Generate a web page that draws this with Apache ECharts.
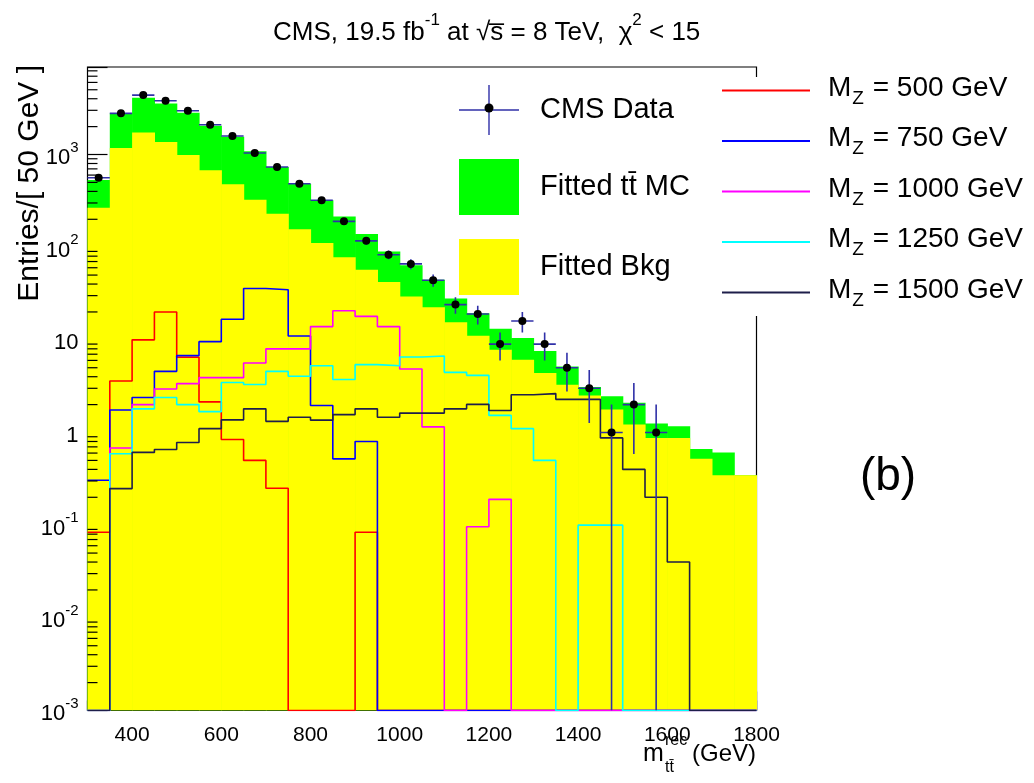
<!DOCTYPE html>
<html>
<head>
<meta charset="utf-8">
<script src="https://cdn.jsdelivr.net/npm/echarts@6.0.0/dist/echarts.min.js"></script>
<style>
html,body{margin:0;padding:0;background:#ffffff;}
#chart{width:1034px;height:783px;}
</style>
</head>
<body>
<div id="chart"></div>
<script>
const FONT = '"Liberation Sans", Arial, Helvetica, sans-serif';

// ---- binning ----
const binLowEdges = [300,350,400,450,500,550,600,650,700,750,800,850,900,950,1000,
                     1050,1100,1150,1200,1250,1300,1350,1400,1450,1500,1550,1600,1650,1700,1750];
const BIN_WIDTH = 50;
const X_MIN = 300, X_MAX = 1800;
const Y_MIN = 0.001, Y_MAX = 8800;
const xMajorTicks = [400,600,800,1000,1200,1400,1600,1800];

// ---- data (entries per 50 GeV bin) ----
const dataCounts = [562,2780,4380,3800,2965,2094,1582,1038,733,484,321,190,117,83,66,
                    44,24,19,9,16,9,5,3,1,2,1,null,null,null,null];
const fittedTotal = [531,2780,4090,3560,2820,2042,1556,1082,733,484,321,214,139,90,64,
                     44.5,28,19.4,13.2,10.5,7.6,5.16,3.10,2.46,2.09,1.25,1.17,0.665,0.61,0.346];
const fittedBkg = [267,1175,1733,1365,988,676,478,324,229,156,111,78,57,42,29.4,
                   22.5,15.5,11.1,7.8,6.1,4.38,3.28,2.51,1.77,1.22,0.875,0.875,0.52,0.346,0.346];

// ---- Z' signal templates ----
const mz500  = [0.084,3.6,10,20,6.5,2.14,0.84,0.50,0.25,0,0,0,0.084,0,0,
                0,0,0,0,0,0,0,0,0,0,0,0,0,0,0];
const mz750  = [0.305,1.75,2.39,4.57,6.75,9.56,16.7,35.8,34.7,11.0,1.96,0.52,0.80,0,0,
                0,0,0,0,0,0,0,0,0,0,0,0,0,0,0];
const mz1000 = [0,0.68,2.0,2.95,3.37,3.91,3.91,5.63,8.0,8.0,13.9,20.6,17.9,13.9,4.84,
                1.15,0,0.096,0.19,0,0,0,0,0,0,0,0,0,0,0];
const mz1250 = [0,0.59,1.80,2.39,2.0,1.68,3.47,3.3,4.57,4.04,5.25,3.74,5.4,5.25,6.53,
                6.7,4.46,4.14,1.53,1.10,0.50,0,0.10,0.10,0,0,0,0,0,0];
const mz1500 = [0,0.248,0.61,0.655,0.78,1.10,1.37,1.80,1.32,1.46,1.36,1.56,1.80,1.46,1.62,
                1.62,1.80,2.01,1.73,2.56,2.63,2.28,2.28,0.875,0.40,0.20,0.040,0,0,0];

const signalSets  = [mz500, mz750, mz1000, mz1250, mz1500];
const signalNames = ['M_Z = 500 GeV','M_Z = 750 GeV','M_Z = 1000 GeV','M_Z = 1250 GeV','M_Z = 1500 GeV'];
const signalColors = ['#ff0000','#0000ff','#ff00ff','#00ffff','#1e1e4a'];

const NAME_DATA = 'CMS Data';
const NAME_TT = 'Fitted tt\u0304 MC';
const NAME_BKG = 'Fitted Bkg';

// minor log ticks (2..9 x 10^k)
const yMinorTicks = [];
for (let e = -3; e <= 3; e++) for (let m = 2; m <= 9; m++) {
  const v = m * Math.pow(10, e);
  if (v < Y_MAX) yMinorTicks.push(v);
}

function clampLog(v) { return v > Y_MIN ? v : Y_MIN; }
function stepData(vals) {
  const d = binLowEdges.map((e, i) => [e, clampLog(vals[i])]);
  d.push([X_MAX, clampLog(vals[vals.length - 1])]);
  return d;
}
function fillData(vals) { return binLowEdges.map((e, i) => [e, e + BIN_WIDTH, vals[i]]); }
function makeFillRender(color) {
  return function (params, api) {
    const lo = api.value(0), hi = api.value(1), v = api.value(2);
    const p0 = api.coord([lo, v]);
    const p1 = api.coord([hi, Y_MIN]);
    return { type: 'rect',
      shape: { x: p0[0], y: p0[1], width: p1[0] - p0[0] + 0.6, height: p1[1] - p0[1] },
      style: { fill: color } };
  };
}

const dataPoints = [];
binLowEdges.forEach((e, i) => { if (dataCounts[i] != null) dataPoints.push([e + BIN_WIDTH / 2, dataCounts[i]]); });

function dataRender(params, api) {
  const x = api.value(0), n = api.value(1);
  const err = Math.sqrt(n);
  const c = api.coord([x, n]);
  const l = api.coord([x - BIN_WIDTH / 2, n]);
  const r = api.coord([x + BIN_WIDTH / 2, n]);
  const t = api.coord([x, n + err]);
  const b = api.coord([x, Math.max(n - err, Y_MIN)]);
  const ls = { stroke: '#3030a8', lineWidth: 1.6 };
  return { type: 'group', children: [
    { type: 'line', shape: { x1: l[0], y1: c[1], x2: r[0], y2: c[1] }, style: ls },
    { type: 'line', shape: { x1: c[0], y1: t[1], x2: c[0], y2: b[1] }, style: ls },
    { type: 'circle', shape: { cx: c[0], cy: c[1], r: 4 }, style: { fill: '#000' } }
  ]};
}

function minorTickRender(params, api) {
  const p = api.coord([X_MIN, api.value(0)]);
  return { type: 'line', shape: { x1: p[0], y1: p[1], x2: p[0] + 10, y2: p[1] },
           style: { stroke: '#000', lineWidth: 1.2 } };
}

const series = [
  { name: NAME_TT, type: 'custom', renderItem: makeFillRender('#00ff00'), data: fillData(fittedTotal),
    encode: { x: [0, 1], y: 2 }, itemStyle: { color: '#00ff00' }, z: 1, clip: true, silent: true },
  { name: NAME_BKG, type: 'custom', renderItem: makeFillRender('#ffff00'), data: fillData(fittedBkg),
    encode: { x: [0, 1], y: 2 }, itemStyle: { color: '#ffff00' }, z: 1.5, clip: true, silent: true }
];
signalSets.forEach((vals, k) => {
  series.push({ name: signalNames[k], type: 'line', step: 'end', data: stepData(vals),
    symbol: 'none', lineStyle: { color: signalColors[k], width: 1.6 }, itemStyle: { color: signalColors[k] },
    z: 3, clip: true, silent: true });
});
series.push({ name: NAME_DATA, type: 'custom', renderItem: dataRender, data: dataPoints,
  encode: { x: 0, y: 1 }, itemStyle: { color: '#3030a8' }, z: 4, clip: true, silent: true });
series.push({ name: 'minorTicks', type: 'custom', renderItem: minorTickRender, data: yMinorTicks.map(v => [v]),
  encode: { y: 0 }, z: 5, clip: false, silent: true });

const LINE_ICON = 'path://M0 0H88V1.8H0Z';

const option = {
  animation: false,
  backgroundColor: '#ffffff',
  textStyle: { fontFamily: FONT },
  grid: { left: 87.5, right: 277.5, top: 67, bottom: 72.5, show: true, borderColor: '#000', borderWidth: 1.2,
          backgroundColor: 'transparent' },
  title: {
    text: '{t|CMS, 19.5 fb}{s|-1}{t| at \u221As\u0305 = 8 TeV,  \u03C7}{s|2}{t| < 15}',
    left: 268, top: 7,
    textStyle: { fontFamily: FONT, fontWeight: 'normal', rich: {
      t: { fontFamily: FONT, fontSize: 26, fontWeight: 'normal', color: '#000', verticalAlign: 'top', padding: [8, 0, 0, 0] },
      s: { fontFamily: FONT, fontSize: 17, fontWeight: 'normal', color: '#000', verticalAlign: 'top' } } }
  },
  xAxis: [
    { type: 'value', min: X_MIN, max: X_MAX, position: 'bottom',
      axisLine: { show: false }, splitLine: { show: false },
      axisTick: { show: true, inside: true, length: 19, customValues: xMajorTicks, lineStyle: { color: '#000', width: 1.2 } },
      axisLabel: { customValues: xMajorTicks, fontFamily: FONT, fontSize: 21, color: '#000', margin: 14,
                   formatter: function (v) { return String(v); } } },
    { type: 'value', min: X_MIN, max: X_MAX, interval: 50, position: 'bottom',
      axisLine: { show: false }, splitLine: { show: false },
      axisTick: { show: true, inside: true, length: 10, lineStyle: { color: '#000', width: 1.2 } },
      axisLabel: { show: false } }
  ],
  yAxis: [
    { type: 'log', logBase: 10, min: Y_MIN, max: Y_MAX,
      axisLine: { show: false }, splitLine: { show: false },
      axisTick: { show: true, inside: true, length: 20, lineStyle: { color: '#000', width: 1.2 } },
      axisLabel: { margin: 9, color: '#000',
        formatter: function (v) {
          const l = Math.log10(v), e = Math.round(l);
          if (Math.abs(l - e) > 1e-6) return '';
          if (e === 0) return '{b|1}';
          if (e === 1) return '{b|10}';
          return '{b|10}{s|' + e + '}';
        },
        rich: {
          b: { fontFamily: FONT, fontSize: 22, color: '#000', verticalAlign: 'top', padding: [7, 0, 0, 0] },
          s: { fontFamily: FONT, fontSize: 15, color: '#000', verticalAlign: 'top' } } } }
  ],
  legend: [
    { orient: 'vertical', left: 459, top: 85, padding: 0, itemWidth: 60, itemHeight: 56, itemGap: 24,
      selectedMode: false, z: 10,
      textStyle: { fontFamily: FONT, fontSize: 29, color: '#000', padding: [0, 0, 0, 16] },
      data: [
        { name: NAME_DATA, icon: 'path://M0 24.3H60V25.7H0Z M29.3 0H30.7V50H29.3Z',
          itemStyle: { color: '#3030a8' } },
        { name: NAME_TT, icon: 'rect', itemStyle: { color: '#00ff00' } },
        { name: NAME_BKG, icon: 'rect', itemStyle: { color: '#ffff00' } }
      ] },
    { orient: 'vertical', left: 722, top: 74, padding: 0, itemWidth: 88, itemHeight: 30, itemGap: 16.5,
      selectedMode: false, z: 10,
      data: signalNames.map((n, k) => ({ name: n, icon: LINE_ICON, itemStyle: { color: signalColors[k] } })),
      formatter: function (name) { return '{m|M}{z|Z}{m|' + name.slice(3) + '}'; },
      textStyle: { fontFamily: FONT, fontSize: 28, color: '#000', padding: [0, 0, 0, 13],
        rich: {
          m: { fontFamily: FONT, fontSize: 28, color: '#000', verticalAlign: 'top', height: 30 },
          z: { fontFamily: FONT, fontSize: 19, color: '#000', verticalAlign: 'top', padding: [16, 1, 0, 1] } } } }
  ],
  graphic: [
    { type: 'rect', left: 716, top: 77, shape: { width: 330, height: 239 }, style: { fill: '#ffffff' }, z: 5, silent: true },
    { type: 'circle', shape: { cx: 489, cy: 108, r: 4.5 }, style: { fill: '#000' }, z: 20, silent: true },
    { type: 'text', x: 30, y: 65, rotation: Math.PI / 2, z: 10,
      style: { text: 'Entries/[ 50 GeV ]', font: '30px ' + FONT, fill: '#000', align: 'right', verticalAlign: 'middle' } },
    { type: 'text', x: 643, y: 754, z: 10,
      style: { text: 'm', font: '25px ' + FONT, fill: '#000', align: 'left', verticalAlign: 'middle' } },
    { type: 'text', x: 665, y: 741, z: 10,
      style: { text: 'rec', font: '16px ' + FONT, fill: '#000', align: 'left', verticalAlign: 'middle' } },
    { type: 'text', x: 665, y: 768, z: 10,
      style: { text: 'tt\u0304', font: '16px ' + FONT, fill: '#000', align: 'left', verticalAlign: 'middle' } },
    { type: 'text', x: 756, y: 754, z: 10,
      style: { text: '(GeV)', font: '24px ' + FONT, fill: '#000', align: 'right', verticalAlign: 'middle' } },
    { type: 'text', x: 888, y: 477, z: 10,
      style: { text: '(b)', font: '46px ' + FONT, fill: '#000', align: 'center', verticalAlign: 'middle' } }
  ],
  series: series
};

const chart = echarts.init(document.getElementById('chart'), null, { renderer: 'canvas' });
chart.setOption(option);
</script>
</body>
</html>
